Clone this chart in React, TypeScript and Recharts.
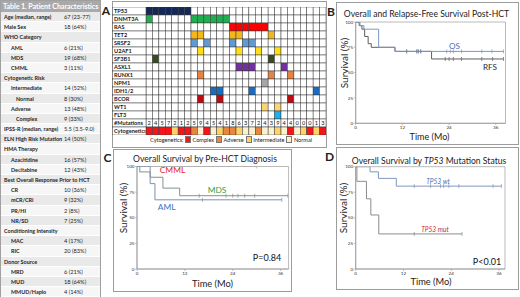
import React from 'react';
import { ComposedChart, Line, Scatter, ScatterChart, XAxis, YAxis, ReferenceArea } from 'recharts';

const FONT = 'Lato, "Open Sans", sans-serif';

// ---------------- Table 1 ----------------
const tableLabels = ['Age (median, range)', 'Male Sex', 'WHO Category', 'AML', 'MDS', 'CMML', 'Cytogenetic Risk', 'Intermediate', 'Normal', 'Adverse', 'Complex', 'IPSS-R (median, range)', 'ELN High Risk Mutation', 'HMA Therapy', 'Azacitidine', 'Decitabine', 'Best Overall Response Prior to HCT', 'CR', 'mCR/CRi', 'PR/HI', 'NR/SD', 'Conditioning Intensity', 'MAC', 'RIC', 'Donor Source', 'MRD', 'MUD', 'MMUD/Haplo'];
const tableValues = ['67 (23-77)', '18 (64%)', '', '6 (21%)', '19 (68%)', '3 (11%)', '', '14 (52%)', '8 (30%)', '13 (48%)', '9 (33%)', '5.5 (3.5-9.0)', '14 (50%)', '', '16 (57%)', '12 (43%)', '', '10 (36%)', '9 (32%)', '2 (8%)', '7 (25%)', '', '4 (17%)', '20 (83%)', '', '6 (21%)', '18 (64%)', '4 (14%)'];
const tableLevels = [0, 0, 0, 1, 1, 1, 0, 1, 2, 1, 2, 0, 0, 0, 1, 1, 0, 1, 1, 1, 1, 0, 1, 1, 0, 1, 1, 1];

// ---------------- Heatmap (panel A) ----------------
const genes = ['TP53', 'DNMT3A', 'RAS', 'TET2', 'SRSF2', 'U2AF1', 'SF3B1', 'ASXL1', 'RUNX1', 'NPM1', 'IDH1/2', 'BCOR', 'WT1', 'FLT3'];
const geneMutatedPatients = [
  [0, 1, 2, 3, 4, 5, 6],
  [0, 7, 8, 9, 10, 11, 12],
  [13, 14, 15, 16, 17, 18],
  [7, 8, 13, 14, 19],
  [7, 9, 13, 15, 16],
  [8, 14, 17, 20],
  [1, 19],
  [14, 15, 16, 21],
  [8, 19, 22],
  [18],
  [10, 11, 16, 26],
  [8, 11, 22],
  [18, 20],
  [20],
];
const mutationCounts = [2, 4, 5, 7, 2, 1, 2, 5, 9, 4, 5, 4, 1, 8, 6, 3, 7, 2, 4, 3, 9, 4, 4, 0, 0, 0, 1, 3];
const cytogenetics = ['C', 'C', 'C', 'C', 'I', 'C', 'C', 'A', 'N', 'C', 'N', 'I', 'A', 'A', 'I', 'N', 'N', 'A', 'N', 'N', 'I', 'N', 'C', 'N', 'I', 'C', 'I', 'C'];
const rowLabels = [...genes, '#Mutations', 'Cytogenetics'];
const cytoLegend = ['Complex', 'Adverse', 'Intermediate', 'Normal'];

const geneColors = ['#13295a', '#1fae50', '#fe0000', '#f3b71a', '#5f9ad4', '#ffdf12', '#3a4a22', '#7131a1', '#e8823f', '#a6a6a6', '#1a6cc1', '#bf0b10', '#fbd570', '#1ab0ee'];
const cytoColors: Record<string, string> = { C: '#f4141a', A: '#ea8540', I: '#fdd26b', N: '#fbf0d0' };

// ---------------- Kaplan-Meier curves ----------------
// B: Overall and relapse-free survival
const osTimes = [0, 1.1, 2.1, 5.9, 10.1, 38.0];
const osSurv = [100, 96.4, 92.9, 75.0, 71.0, 71.0];
const osCensor = [13.1, 15.7, 16.1, 16.7, 23.4, 24.3, 25.1, 27.2, 32.4, 35.0, 38.0];
const rfsTimes = [0, 0.9, 1.6, 2.3, 3.2, 4.0, 10.1, 19.5, 38.0];
const rfsSurv = [100, 96.4, 92.9, 85.7, 78.6, 75.0, 71.0, 63.5, 63.5];
const rfsCensor = [13.1, 15.7, 16.1, 16.7, 23.0, 24.0, 25.1, 27.2, 32.4, 35.2, 38.0];
// C: by diagnosis
const cmmlTimes = [0, 30.0];
const cmmlSurv = [100, 100];
const cmmlCensor = [9.0, 30.0];
const mdsTimes = [0, 0.7, 3.3, 6.5, 10.7, 37.8];
const mdsSurv = [100, 94.7, 89.5, 78.9, 71.5, 71.5];
const mdsCensor = [15.6, 22.3, 24.0, 25.3, 27.0, 29.5, 37.8];
const amlTimes = [0, 3.3, 4.5, 36.3];
const amlSurv = [100, 83.3, 67.5, 67.5];
const amlCensor = [16.4, 36.3];
// D: by TP53
const wtTimes = [0, 3.6, 5.7, 10.2, 36.6];
const wtSurv = [100, 95.0, 88.6, 81.0, 81.0];
const wtCensor = [14.7, 18.8, 21.3, 22.1, 23.4, 25.9, 34.5, 36.6];
const mutTimes = [0, 0.3, 2.7, 3.8, 5.8, 26.7];
const mutSurv = [100, 85.7, 68.6, 52.8, 34.3, 34.3];
const mutCensor = [14.7, 26.7];

const xTicks = [0, 12, 24, 36];
const yTicks = [0, 25, 50, 75, 100];

// ---------------- helpers ----------------
const stepPoints = (times: number[], surv: number[]) => times.map((t, i) => ({ t, s: surv[i] }));
const censorPoints = (times: number[], surv: number[], marks: number[]) =>
  marks.map((m) => {
    let s = surv[0];
    for (let i = 0; i < times.length; i++) if (times[i] <= m) s = surv[i];
    return { t: m, s };
  });

type Curve = { times: number[]; surv: number[]; censor: number[]; color: string };

function KM(props: { width: number; height: number; top: number; right: number; yW: number; xH: number; xMax: number; curves: Curve[] }) {
  const { width, height, top, right, yW, xH, xMax, curves } = props;
  const tickStyle = { fontSize: 4.6, fill: '#333', fontFamily: FONT };
  return (
    <ComposedChart width={width} height={height} margin={{ top, right, bottom: 0, left: 0 }}>
      <XAxis type="number" dataKey="t" domain={[0, xMax]} ticks={xTicks} allowDataOverflow height={xH} tick={tickStyle} tickSize={2} tickMargin={0.5} axisLine={{ stroke: '#9a9a9a', strokeWidth: 0.8 }} tickLine={{ stroke: '#9a9a9a', strokeWidth: 0.6 }} />
      <YAxis type="number" dataKey="s" domain={[0, 100]} ticks={yTicks} allowDataOverflow width={yW} tick={tickStyle} tickSize={2} tickMargin={0.5} axisLine={{ stroke: '#9a9a9a', strokeWidth: 0.8 }} tickLine={{ stroke: '#9a9a9a', strokeWidth: 0.6 }} />
      <ReferenceArea x1={0} x2={xMax} y1={0} y2={100} fill="none" stroke="#a8a8a8" strokeWidth={0.8} ifOverflow="visible" />
      {curves.map((c, i) => (
        <Line key={'l' + i} data={stepPoints(c.times, c.surv)} dataKey="s" type="stepAfter" stroke={c.color} strokeWidth={1} dot={false} activeDot={false} isAnimationActive={false} />
      ))}
      {curves.map((c, i) => (
        <Scatter
          key={'s' + i}
          data={censorPoints(c.times, c.surv, c.censor)}
          dataKey="s"
          isAnimationActive={false}
          shape={(p: any) => <line x1={p.cx} x2={p.cx} y1={p.cy - 2} y2={p.cy + 2} stroke={c.color} strokeWidth={0.7} />}
        />
      ))}
    </ComposedChart>
  );
}

// ---------------- heatmap ----------------
const HEAT_W = 214;
const HEAT_H = 128;
const LABEL_W = 34;
const CW = (HEAT_W - LABEL_W) / 28;
const CH = HEAT_H / 16;

const heatCells: { x: number; y: number; kind: string; gene: number; on: boolean; count: number; cyto: string }[] = [];
for (let r = 0; r < rowLabels.length; r++) {
  for (let c = 0; c < mutationCounts.length; c++) {
    if (r < genes.length) heatCells.push({ x: c, y: r, kind: 'gene', gene: r, on: geneMutatedPatients[r].includes(c), count: 0, cyto: '' });
    else if (r === genes.length) heatCells.push({ x: c, y: r, kind: 'count', gene: -1, on: false, count: mutationCounts[c], cyto: '' });
    else heatCells.push({ x: c, y: r, kind: 'cyto', gene: -1, on: false, count: 0, cyto: cytogenetics[c] });
  }
}

const HeatCell = (p: any) => {
  const d = p.payload;
  let fill = '#ffffff';
  if (d.kind === 'gene' && d.on) fill = geneColors[d.gene];
  if (d.kind === 'cyto') fill = cytoColors[d.cyto];
  return (
    <g>
      <rect x={p.cx - CW / 2} y={p.cy - CH / 2} width={CW} height={CH} fill={fill} stroke="#3a3a3a" strokeWidth={0.5} />
      {d.kind === 'count' && (
        <text x={p.cx} y={p.cy} dy="0.36em" textAnchor="middle" fontSize={5.6} fontFamily={FONT} fill="#111">
          {d.count}
        </text>
      )}
    </g>
  );
};

const RowLabelTick = (p: any) => {
  const y = p.y;
  const label = rowLabels[p.payload.value];
  return (
    <g>
      <rect x={0.5} y={y - CH / 2} width={LABEL_W - 0.5} height={CH} fill="#fff" stroke="#3a3a3a" strokeWidth={0.5} />
      <svg x={0.5} y={y - CH / 2} width={LABEL_W - 1} height={CH} overflow="hidden">
        <text x={1.5} y={CH / 2} dy="0.36em" fontSize={5.6} fontWeight={700} fontFamily={FONT} fill="#1a1a1a">
          {label}
        </text>
      </svg>
    </g>
  );
};

// ---------------- layout helpers ----------------
const abs = (left: number, top: number, extra: React.CSSProperties = {}): React.CSSProperties => ({ position: 'absolute', left, top, ...extra });
const boxStyle = (l: number, t: number, r: number, b: number): React.CSSProperties => ({ position: 'absolute', left: l, top: t, width: r - l, height: b - t, border: '1px solid #9c9c9c', boxSizing: 'border-box' });
const Txt = (p: { x: number; y: number; size: number; color?: string; bold?: boolean; italic?: boolean; children: React.ReactNode }) => (
  <div style={{ position: 'absolute', left: p.x, top: p.y, transform: 'translate(-50%, -50%)', whiteSpace: 'nowrap', fontSize: p.size, lineHeight: 1, color: p.color || '#222', fontWeight: p.bold ? 700 : 400, fontStyle: p.italic ? 'italic' : 'normal', fontFamily: FONT }}>
    {p.children}
  </div>
);
const VTxt = (p: { x: number; y: number; size: number; children: React.ReactNode }) => (
  <div style={{ position: 'absolute', left: p.x, top: p.y, transform: 'translate(-50%, -50%) rotate(-90deg)', whiteSpace: 'nowrap', fontSize: p.size, lineHeight: 1, color: '#222', fontFamily: FONT }}>
    {p.children}
  </div>
);

export default function App() {
  const ROW_H = 10.2;
  const HEAD_H = 11;
  return (
    <div style={{ position: 'absolute', left: 0, top: 0, width: 520, height: 297, background: '#fff', overflow: 'hidden', fontFamily: FONT }}>
      {/* ---------- Table ---------- */}
      <div style={abs(0, 0, { width: 101, height: 297, border: '1px solid #a0a0a0', boxSizing: 'border-box', background: '#fff' })}>
        <div style={{ height: HEAD_H, background: '#a9a9a9', color: '#fff', fontWeight: 700, fontSize: 7.2, lineHeight: HEAD_H + 'px', paddingLeft: 2, whiteSpace: 'nowrap', letterSpacing: -0.1 }}>
          Table 1. Patient Characteristics
        </div>
        {tableLabels.map((lab, i) => (
          <div key={i} style={{ position: 'relative', height: ROW_H, background: i % 2 === 0 ? '#e9e9e9' : '#f6f6f6', borderBottom: '0.6px solid #ffffff', boxSizing: 'border-box', fontSize: 6.3, fontWeight: 700, color: '#262626', lineHeight: ROW_H + 'px', whiteSpace: 'nowrap' }}>
            <span style={{ position: 'absolute', left: [2.5, 9.5, 14.5][tableLevels[i]], transform: 'scaleX(0.86)', transformOrigin: 'left center' }}>{lab}</span>
            {tableValues[i] && <span style={{ position: 'absolute', left: 63, fontWeight: 400, transform: 'scaleX(0.9)', transformOrigin: 'left center' }}>{tableValues[i]}</span>}
          </div>
        ))}
      </div>

      {/* ---------- Panel boxes ---------- */}
      <div style={boxStyle(111.5, 1, 326.5, 147.5)} />
      <div style={boxStyle(336, 2, 519, 145)} />
      <div style={boxStyle(113, 149, 292, 292)} />
      <div style={boxStyle(336, 147, 519, 290)} />

      {/* ---------- Panel letters ---------- */}
      <Txt x={106} y={11} size={12} bold>A</Txt>
      <Txt x={331} y={12} size={12} bold>B</Txt>
      <Txt x={107.5} y={158} size={12} bold>C</Txt>
      <Txt x={329.5} y={157} size={12} bold>D</Txt>

      {/* ---------- Panel A heatmap ---------- */}
      <div style={abs(112, 7)}>
        <ScatterChart width={HEAT_W} height={HEAT_H} margin={{ top: 0, right: 0, bottom: 0, left: 0 }}>
          <XAxis type="number" dataKey="x" domain={[-0.5, 27.5]} allowDataOverflow hide />
          <YAxis type="number" dataKey="y" domain={[-0.5, 15.5]} allowDataOverflow reversed width={LABEL_W} ticks={rowLabels.map((_, i) => i)} interval={0} axisLine={false} tickLine={false} tick={<RowLabelTick />} />
          <Scatter data={heatCells} shape={HeatCell} isAnimationActive={false} />
        </ScatterChart>
      </div>
      <div style={abs(150, 135.5, { display: 'flex', alignItems: 'center', fontSize: 5.6, color: '#222', whiteSpace: 'nowrap', height: 7 })}>
        <span style={{ marginRight: 1.5 }}>Cytogenetics:</span>
        {cytoLegend.map((name, i) => (
          <span key={name} style={{ display: 'flex', alignItems: 'center', marginRight: 2 }}>
            <span style={{ display: 'inline-block', width: 4, height: 5, background: cytoColors[['C', 'A', 'I', 'N'][i]], border: '0.5px solid #777', marginRight: 1.5 }} />
            {name}
          </span>
        ))}
      </div>

      {/* ---------- Panel B ---------- */}
      <Txt x={426.5} y={14} size={8.6}>Overall and Relapse-Free Survival Post-HCT</Txt>
      <div style={abs(337, 3)}>
        <KM width={181} height={141} top={19} right={12.5} yW={18.7} xH={20.7} xMax={38.5}
          curves={[
            { times: rfsTimes, surv: rfsSurv, censor: rfsCensor, color: '#5e5e5e' },
            { times: osTimes, surv: osSurv, censor: osCensor, color: '#7f95c2' },
          ]} />
      </div>
      <VTxt x={343.5} y={62.5} size={10}>Survival (%)</VTxt>
      <Txt x={429.5} y={136.3} size={9}>Time (Mo)</Txt>
      <Txt x={454.5} y={46.3} size={8.2} color="#4a6fb5">OS</Txt>
      <Txt x={490} y={66.7} size={8.2} color="#2a2a2a">RFS</Txt>

      {/* ---------- Panel C ---------- */}
      <Txt x={205} y={159} size={8.6}>Overall Survival by Pre-HCT Diagnosis</Txt>
      <div style={abs(114, 150)}>
        <KM width={177} height={138} top={16.5} right={2.4} yW={23} xH={19} xMax={38}
          curves={[
            { times: cmmlTimes, surv: cmmlSurv, censor: cmmlCensor, color: '#a9a9a9' },
            { times: amlTimes, surv: amlSurv, censor: amlCensor, color: '#7d8fb5' },
            { times: mdsTimes, surv: mdsSurv, censor: mdsCensor, color: '#7f9486' },
          ]} />
      </div>
      <VTxt x={122.5} y={208} size={10}>Survival (%)</VTxt>
      <Txt x={212.5} y={283.5} size={9.3}>Time (Mo)</Txt>
      <Txt x={172.5} y={170} size={8.4} color="#e0262a">CMML</Txt>
      <Txt x={217} y={190.3} size={8.4} color="#2fa14a">MDS</Txt>
      <Txt x={166.7} y={206.7} size={8.4} color="#4470c0">AML</Txt>
      <Txt x={267} y={257} size={9} color="#111">P=0.84</Txt>

      {/* ---------- Panel D ---------- */}
      <div style={{ position: 'absolute', left: 429, top: 160.7, transform: 'translate(-50%, -50%)', whiteSpace: 'nowrap', fontSize: 8.6, lineHeight: 1, color: '#222', fontFamily: FONT }}>
        Overall Survival by <i>TP53</i> Mutation Status
      </div>
      <div style={abs(337, 148)}>
        <KM width={181} height={140} top={18.7} right={13} yW={18.7} xH={19} xMax={37.5}
          curves={[
            { times: wtTimes, surv: wtSurv, censor: wtCensor, color: '#8196bd' },
            { times: mutTimes, surv: mutSurv, censor: mutCensor, color: '#8c8c8c' },
          ]} />
      </div>
      <VTxt x={343} y={208} size={10}>Survival (%)</VTxt>
      <Txt x={431} y={281.8} size={9.3}>Time (Mo)</Txt>
      <Txt x={438} y={180.5} size={6.6} italic color="#4a6fb5">TP53 wt</Txt>
      <Txt x={435} y={228.5} size={6.6} italic color="#d0262a">TP53 mut</Txt>
      <Txt x={487} y={260.5} size={9} color="#111">P&lt;0.01</Txt>
    </div>
  );
}
